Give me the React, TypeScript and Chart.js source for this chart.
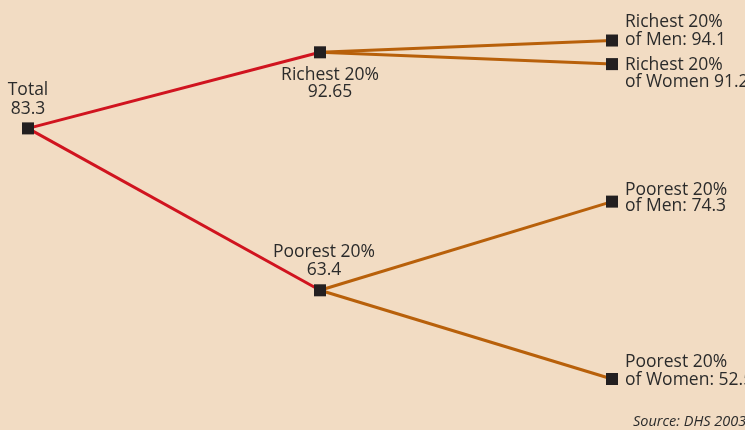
import React, { useEffect, useRef } from "react";
import { Chart, registerables } from "chart.js";

Chart.register(...registerables);

// ---- data ----
const nodeNames = ["Total", "Richest", "Poorest", "RichMen", "RichWomen", "PoorMen", "PoorWomen"];
const nodeStages = [0, 1, 1, 2, 2, 2, 2];
const nodeValues = [83.3, 92.65, 63.4, 94.1, 91.2, 74.3, 52.5];
const nodeLabels: string[][] = [
  ["Total", "83.3"],
  ["Richest 20%", "92.65"],
  ["Poorest 20%", "63.4"],
  ["Richest 20%", "of Men: 94.1"],
  ["Richest 20%", "of Women 91.2"],
  ["Poorest 20%", "of Men: 74.3"],
  ["Poorest 20%", "of Women: 52.5"],
];
const edgesFrom = [0, 0, 1, 1, 2, 2];
const edgesTo = [1, 2, 3, 4, 5, 6];
const sourceText = "Source: DHS 2003";

// ---- styles ----
const BG = "#f2dcc3";
const RED = "#d0141f";
const ORANGE = "#b8600a";
const TEXT = "#2b2b2b";
const FONT = "'Open Sans', sans-serif";
// label layout: align, dx, baseline dy for first line, line height
const labelLayout = [
  { align: "center", dx: 0, dy: -33, lh: 19 },
  { align: "center", dx: 10, dy: 28, lh: 17 },
  { align: "center", dx: 4, dy: -33, lh: 18 },
  { align: "left", dx: 13, dy: -13.5, lh: 18 },
  { align: "left", dx: 13, dy: 5.5, lh: 17 },
  { align: "left", dx: 13, dy: -7, lh: 16.5 },
  { align: "left", dx: 13, dy: -12, lh: 18 },
];

const labelPlugin = {
  id: "treeLabels",
  afterDatasetsDraw(chart: any) {
    const { ctx, scales } = chart;
    const xs = scales.x;
    const ys = scales.y;
    ctx.save();
    ctx.fillStyle = TEXT;
    ctx.font = `17.5px ${FONT}`;
    ctx.textBaseline = "alphabetic";
    nodeNames.forEach((_, i) => {
      const px = xs.getPixelForValue(nodeStages[i]);
      const py = ys.getPixelForValue(nodeValues[i]);
      const l = labelLayout[i];
      ctx.textAlign = l.align as CanvasTextAlign;
      nodeLabels[i].forEach((line, j) => {
        ctx.fillText(line, px + l.dx, py + l.dy + j * l.lh);
      });
    });
    ctx.font = `italic 14.5px ${FONT}`;
    ctx.textAlign = "left";
    ctx.fillText(sourceText, 633, 426);
    ctx.restore();
  },
};

export default function App() {
  const ref = useRef<HTMLCanvasElement | null>(null);
  useEffect(() => {
    if (!ref.current) return;
    const edgeSets = edgesFrom.map((f, k) => {
      const t = edgesTo[k];
      return {
        type: "line" as const,
        data: [
          { x: nodeStages[f], y: nodeValues[f] },
          { x: nodeStages[t], y: nodeValues[t] },
        ],
        borderColor: f === 0 ? RED : ORANGE,
        borderWidth: 3,
        pointRadius: 0,
        fill: false,
        order: 2,
      };
    });
    const nodeSet = {
      type: "scatter" as const,
      data: nodeNames.map((_, i) => ({ x: nodeStages[i], y: nodeValues[i] })),
      pointStyle: "rect",
      pointRadius: 8.5,
      backgroundColor: "#231f20",
      borderColor: "#231f20",
      borderWidth: 0,
      order: 1,
    };
    const chart = new Chart(ref.current, {
      type: "scatter",
      data: { datasets: [...edgeSets, nodeSet] as any },
      options: {
        animation: false,
        responsive: false,
        layout: { padding: 0, autoPadding: false },
        plugins: { legend: { display: false }, tooltip: { enabled: false } },
        scales: {
          x: { type: "linear", display: false, min: -0.0959, max: 2.4555, bounds: "data" },
          y: { type: "linear", display: false, min: 46.23, max: 99.08, bounds: "data" },
        },
      },
      plugins: [labelPlugin],
    });
    return () => chart.destroy();
  }, []);
  return (
    <div style={{ position: "fixed", left: 0, top: 0, width: 745, height: 430, background: BG }}>
      <canvas ref={ref} width={745} height={430} style={{ display: "block" }} />
    </div>
  );
}
